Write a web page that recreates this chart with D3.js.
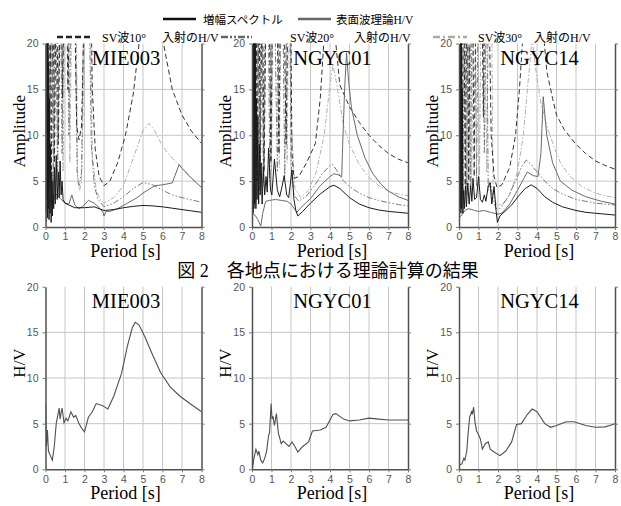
<!DOCTYPE html>
<html>
<head>
<meta charset="utf-8">
<script src="https://cdn.jsdelivr.net/npm/d3@7"></script>
<style>
body { margin: 0; background: #fff; }
</style>
</head>
<body>
<div id="fig"></div>
<script>
// ---- data: [period (s), amplitude] ----
var stations = ["MIE003", "NGYC01", "NGYC14"];
var periodTicks = [0, 1, 2, 3, 4, 5, 6, 7, 8];
var ampTicks = [0, 5, 10, 15, 20];

// MIE003 (top)
var mieAmp = [[0.02,1.5],[0.04,20],[0.06,3],[0.08,25],[0.1,1],[0.12,22],[0.14,2],[0.16,18],[0.18,0.8],[0.2,14],[0.23,1.5],[0.26,9],[0.29,0.5],[0.32,6],[0.35,1.2],[0.38,5],[0.42,2],[0.46,6.5],[0.5,2.5],[0.55,7.8],[0.6,3],[0.66,6],[0.7,3.2],[0.75,7.2],[0.8,3.5],[0.85,5],[0.9,3],[1.0,2.6],[1.2,2.4],[1.5,2.1],[2.0,2.1],[2.5,2.2],[3.0,1.8],[3.5,1.9],[4.0,2.1],[4.5,2.25],[5.0,2.35],[5.5,2.3],[6.0,2.2],[6.5,2.05],[7.0,1.9],[7.5,1.75],[8.0,1.6]];
var mieSurf = [[0.05,0.5],[0.1,2],[0.2,3.2],[0.35,2.4],[0.5,3.6],[0.6,3.5],[0.8,3.0],[1.0,2.6],[1.2,2.5],[1.35,3.5],[1.5,2.4],[1.7,2.0],[1.9,2.2],[2.2,2.9],[2.5,2.6],[2.8,2.0],[2.95,1.6],[3.0,1.2],[3.1,1.7],[3.3,1.7],[3.7,2.0],[4.2,2.6],[4.7,3.2],[5.0,3.7],[5.3,4.1],[5.6,4.5],[6.0,4.6],[6.5,4.8],[6.85,6.8],[7.0,6.4],[7.3,5.7],[7.7,4.9],[8.0,4.3]];
var mieSv10 = [[0.05,3],[0.1,30],[0.15,5],[0.22,30],[0.3,6],[0.38,30],[0.46,7],[0.56,30],[0.66,9],[0.78,30],[0.88,14],[0.97,30],[1.05,30],[1.15,15],[1.3,30],[1.45,30],[1.6,11],[1.72,9.5],[1.85,11],[2.05,30],[2.3,30],[2.4,15],[2.55,8.5],[2.75,5.5],[3.0,4.5],[3.3,5],[3.7,7],[4.1,10],[4.5,14.5],[4.8,20],[5.1,28],[5.5,40],[5.85,28],[6.05,20],[6.5,15],[7.0,12.2],[7.5,10.4],[8.0,9.1]];
var mieSv20 = [[0.05,2],[0.12,30],[0.2,4],[0.3,30],[0.4,5],[0.5,30],[0.62,6],[0.75,30],[0.85,8],[0.95,30],[1.1,30],[1.2,10],[1.35,30],[1.5,30],[1.62,6],[1.72,4.5],[1.85,6],[2.0,30],[2.2,30],[2.35,9],[2.5,4.5],[2.7,3],[3.0,2.2],[3.5,2.6],[4.0,3.3],[4.5,4.2],[5.0,4.85],[5.5,4.6],[6.0,4.0],[6.5,3.5],[7.0,3.2],[7.5,2.95],[8.0,2.7]];
var mieSv30 = [[0.05,3],[0.15,30],[0.22,4],[0.34,30],[0.42,5],[0.52,30],[0.62,5],[0.72,30],[0.8,30],[0.9,6],[1.02,30],[1.15,30],[1.25,7],[1.38,30],[1.55,30],[1.65,5],[1.75,4],[1.85,5],[2.1,30],[2.25,30],[2.4,8],[2.6,4],[2.8,3],[3.0,2.6],[3.5,3.2],[4.0,4.5],[4.5,7.5],[5.0,10.5],[5.3,11.3],[5.6,10.5],[6.0,8.8],[6.5,7.5],[7.0,6.5],[7.5,5.3],[8.0,4.3]];

// NGYC01 (top)
var n01Amp = [[0.02,2],[0.04,9],[0.06,1.5],[0.08,20],[0.1,2],[0.12,25],[0.14,2.5],[0.17,20],[0.2,2],[0.23,14],[0.26,3],[0.3,12],[0.34,2.5],[0.38,9],[0.42,3.5],[0.47,7],[0.52,2.5],[0.58,6.5],[0.65,3.5],[0.72,5.5],[0.78,3.8],[0.85,8.6],[0.95,4],[1.02,3.5],[1.15,7.4],[1.3,4],[1.42,3.3],[1.55,4.5],[1.65,5.6],[1.78,3.5],[1.88,3.2],[2.05,6.2],[2.15,3],[2.25,1.8],[2.35,1.2],[2.6,1.7],[3.0,2.6],[3.5,3.6],[4.0,4.4],[4.2,4.55],[4.5,4.2],[5.0,3.2],[5.5,2.5],[6.0,2.1],[6.5,1.85],[7.0,1.7],[7.5,1.6],[8.0,1.5]];
var n01Surf = [[0.0,1.5],[0.15,1.3],[0.3,0.8],[0.45,0.1],[0.55,1.5],[0.7,2.8],[0.9,2.9],[1.2,3.0],[1.5,2.9],[1.8,2.8],[2.0,2.5],[2.2,1.9],[2.3,1.6],[2.5,2.1],[2.8,2.7],[3.0,3.1],[3.5,4.5],[4.0,5.5],[4.2,5.8],[4.4,5.7],[4.6,5.5],[4.65,9],[4.75,15],[4.85,19],[4.95,16],[5.1,13],[5.4,10],[5.8,7.5],[6.2,5.8],[6.6,4.7],[7.0,3.9],[7.5,3.3],[8.0,2.9]];
var n01Sv10 = [[0.03,3],[0.08,30],[0.13,4],[0.2,30],[0.27,5],[0.35,30],[0.43,5.5],[0.52,30],[0.62,6],[0.75,30],[0.85,30],[0.97,7],[1.08,30],[1.25,30],[1.38,8],[1.48,30],[1.6,30],[1.75,9],[1.88,30],[1.96,30],[2.05,8],[2.15,5.3],[2.4,5.5],[2.8,7],[3.25,9.1],[3.5,14],[3.68,20],[3.85,30],[4.0,40],[4.15,30],[4.3,20],[4.5,15.5],[5.0,13.1],[5.5,11.4],[6.0,10],[6.5,8.9],[7.0,8.0],[7.5,7.4],[8.0,7.0]];
var n01Sv20 = [[0.05,2],[0.12,30],[0.2,3],[0.3,30],[0.38,4],[0.48,30],[0.58,4.5],[0.7,30],[0.8,30],[0.92,5],[1.0,30],[1.12,30],[1.3,6],[1.42,30],[1.55,30],[1.68,5.5],[1.82,30],[1.92,30],[2.0,7],[2.15,3.5],[2.4,2.8],[2.8,3.4],[3.2,4.5],[3.6,5.8],[4.0,6.7],[4.15,6.8],[4.4,6.0],[4.7,5.0],[5.0,4.4],[5.5,3.7],[6.0,3.2],[6.5,2.9],[7.0,2.65],[7.5,2.45],[8.0,2.3]];
var n01Sv30 = [[0.05,3],[0.15,30],[0.22,4],[0.32,30],[0.4,5],[0.5,30],[0.6,5.5],[0.72,30],[0.9,30],[1.0,6],[1.1,30],[1.3,30],[1.4,6.5],[1.52,30],[1.7,30],[1.8,7],[1.9,30],[2.0,12],[2.2,4.2],[2.5,3.2],[2.9,4],[3.3,6],[3.7,10],[4.0,15.5],[4.15,17.7],[4.35,15.5],[4.7,11],[5.0,9],[5.5,6.8],[6.0,5.4],[6.5,4.5],[7.0,3.9],[7.5,3.6],[8.0,3.4]];

// NGYC14 (top)
var n14Amp = [[0.02,1],[0.04,12.5],[0.06,2],[0.08,20],[0.1,1.5],[0.12,25],[0.14,2],[0.17,15],[0.2,1.5],[0.24,4],[0.28,2],[0.33,4.5],[0.38,2.2],[0.45,4.8],[0.52,2.5],[0.6,4.5],[0.66,2.8],[0.72,5.3],[0.8,3],[0.9,3.2],[1.0,5.5],[1.1,3],[1.2,2.7],[1.3,3.5],[1.38,2.8],[1.5,4.5],[1.6,4.8],[1.68,2.5],[1.8,4.4],[1.9,1.8],[1.97,0.5],[2.1,1.2],[2.3,1.6],[2.7,2.4],[3.1,3.5],[3.4,4.2],[3.7,4.6],[4.0,4.2],[4.4,3.3],[4.8,2.7],[5.3,2.2],[6.0,1.8],[6.5,1.6],[7.0,1.5],[7.5,1.4],[8.0,1.3]];
var n14Surf = [[0.0,1.0],[0.1,1.2],[0.3,1.8],[0.5,2.0],[0.8,1.8],[1.0,1.7],[1.3,1.8],[1.6,1.6],[1.8,1.5],[2.0,1.4],[2.2,1.5],[2.6,2.5],[3.0,4.0],[3.3,5.2],[3.5,6.0],[3.8,5.6],[4.05,5.5],[4.2,8],[4.32,14.2],[4.5,10],[4.8,7],[5.2,5],[5.8,4],[6.5,3.3],[7.3,2.8],[8.0,2.5]];
var n14Sv10 = [[0.03,3],[0.1,30],[0.16,4],[0.24,30],[0.32,4.5],[0.42,30],[0.5,5],[0.6,30],[0.68,30],[0.78,5.5],[0.88,30],[1.15,30],[1.25,12],[1.35,30],[1.5,30],[1.65,10],[1.8,5.5],[1.95,4.3],[2.2,4.6],[2.6,6.5],[2.9,10],[3.1,15],[3.25,20],[3.5,35],[3.8,40],[4.1,30],[4.3,22],[4.5,17],[4.8,14],[5.0,12.2],[5.4,10.6],[6.0,9],[6.5,8],[7.0,7.2],[7.5,6.7],[8.0,6.3]];
var n14Sv20 = [[0.05,2],[0.13,30],[0.2,3],[0.3,30],[0.38,3.5],[0.5,30],[0.58,4],[0.7,30],[0.82,30],[0.9,4.5],[1.0,30],[1.2,30],[1.3,8],[1.4,30],[1.5,4],[1.6,5],[1.75,3],[1.9,2],[2.1,2.0],[2.5,3.2],[2.9,5],[3.2,6.5],[3.45,7.3],[3.7,6.8],[4.0,6.0],[4.4,5.0],[4.8,4.2],[5.3,3.6],[6.0,3.0],[6.5,2.8],[7.0,2.6],[7.5,2.5],[8.0,2.4]];
var n14Sv30 = [[0.05,3],[0.15,30],[0.22,3.5],[0.35,30],[0.45,4],[0.55,30],[0.65,4.5],[0.78,30],[0.95,30],[1.05,5],[1.15,30],[1.3,30],[1.42,6],[1.55,30],[1.65,30],[1.75,4],[1.9,2.5],[2.2,2.4],[2.6,3.5],[3.0,6],[3.3,10],[3.55,16],[3.75,20.5],[3.95,17],[4.2,13.5],[4.5,11],[4.8,9.2],[5.2,7],[5.7,5.5],[6.3,4.4],[7.0,3.7],[7.5,3.4],[8.0,3.2]];

// observed H/V (bottom)
var hvMie = [[0.0,7.2],[0.05,2.5],[0.1,4.3],[0.15,2],[0.25,1.5],[0.35,1.0],[0.45,2.5],[0.55,5],[0.62,5.8],[0.7,6.7],[0.75,5.5],[0.8,6.2],[0.85,6.7],[0.95,5.1],[1.05,5.6],[1.15,5.3],[1.3,6.3],[1.45,5.7],[1.55,5.9],[1.7,5.1],[1.85,4.5],[2.0,4.1],[2.2,5.7],[2.4,6.3],[2.6,7.2],[2.9,7.0],[3.2,6.6],[3.5,8.0],[3.9,10.5],[4.2,13.5],[4.45,15.5],[4.6,16.1],[4.8,15.8],[5.1,14.5],[5.5,12.5],[5.9,10.6],[6.4,9.0],[6.9,8.0],[7.4,7.2],[8.0,6.3]];
var hvN01 = [[0.02,0.1],[0.1,1.2],[0.2,2.2],[0.3,1.6],[0.35,2.0],[0.45,1.0],[0.55,0.7],[0.65,1.2],[0.75,2.0],[0.85,3.7],[0.9,4.0],[0.98,7.2],[1.03,5.5],[1.08,5.8],[1.15,4.8],[1.25,6.1],[1.35,4.0],[1.5,2.8],[1.6,3.1],[1.8,2.7],[1.9,2.5],[2.05,3.0],[2.2,2.5],[2.35,1.9],[2.6,2.5],[2.9,3.0],[3.1,4.2],[3.5,4.3],[3.8,4.6],[4.15,6.0],[4.3,6.1],[4.7,5.5],[5.0,5.3],[5.5,5.4],[6.0,5.6],[6.5,5.5],[7.0,5.4],[8.0,5.4]];
var hvN14 = [[0.05,0.5],[0.15,0.6],[0.25,1.2],[0.3,1.0],[0.4,2],[0.45,3.5],[0.55,5.8],[0.6,6.0],[0.65,6.4],[0.68,6.0],[0.75,6.8],[0.82,5.2],[0.9,4.2],[1.0,3.8],[1.1,3.3],[1.2,2.2],[1.35,2.8],[1.5,3.0],[1.6,2.2],[1.8,1.9],[2.1,1.5],[2.4,2.0],[2.7,3.0],[2.95,4.9],[3.2,5.0],[3.5,6.0],[3.75,6.6],[4.0,6.3],[4.4,5.0],[4.7,4.6],[5.0,4.8],[5.5,5.2],[5.9,5.2],[6.5,4.8],[7.0,4.6],[7.5,4.65],[8.0,5.0]];

var topSeries = [
  [mieSv30, mieSv20, mieSv10, mieSurf, mieAmp],
  [n01Sv30, n01Sv20, n01Sv10, n01Surf, n01Amp],
  [n14Sv30, n14Sv20, n14Sv10, n14Surf, n14Amp]
];
var bottomSeries = [hvMie, hvN01, hvN14];

// line styles, same order as topSeries rows
var styles = [
  {color: "#b0b0b0", dash: "5,2,1.5,2"},
  {color: "#7a7a7a", dash: "6,2,1.5,2,1.5,2"},
  {color: "#333", dash: "5,3"},
  {color: "#6a6a6a", dash: null},
  {color: "#1a1a1a", dash: null}
];

var width = 621, height = 506;
var lefts = [45.5, 252, 459];
var pw = 156;
var topY = 43.5, topH = 183.5;
var botY = 286.7, botH = 182.6;

var serif = "'Liberation Serif', 'Times New Roman', 'Noto Sans CJK JP', serif";
var sans = "'Liberation Sans', Arial, sans-serif";

var svg = d3.select("#fig")
  .append("svg")
    .attr("width", width)
    .attr("height", height)
    .style("background", "#fff");

function drawPanel(i, y0, h, lines, ylab, idx) {
  var left = lefts[i];
  var x = d3.scaleLinear().domain([0, 8]).range([left, left + pw]);
  var y = d3.scaleLinear().domain([0, 20]).range([y0 + h, y0]);
  var g = svg.append("g");

  // grid
  g.selectAll(".vg").data(periodTicks.slice(1, -1)).enter().append("line")
    .attr("x1", d => x(d)).attr("x2", d => x(d))
    .attr("y1", y(0)).attr("y2", y(20))
    .attr("stroke", "#c6c6c6").attr("stroke-width", 1);
  g.selectAll(".hg").data([5, 10, 15]).enter().append("line")
    .attr("x1", x(0)).attr("x2", x(8))
    .attr("y1", d => y(d)).attr("y2", d => y(d))
    .attr("stroke", "#c6c6c6").attr("stroke-width", 1);

  // curves
  var clipId = "clip" + idx;
  g.append("clipPath").attr("id", clipId)
    .append("rect").attr("x", x(0)).attr("y", y(20))
    .attr("width", pw).attr("height", h);
  var line = d3.line().x(d => x(d[0])).y(d => y(d[1]));
  lines.forEach(function(l) {
    g.append("path")
      .datum(l.data)
      .attr("clip-path", "url(#" + clipId + ")")
      .attr("fill", "none")
      .attr("stroke", l.color)
      .attr("stroke-width", l.w || 1)
      .attr("stroke-dasharray", l.dash)
      .attr("d", line);
  });

  // axes
  var ax = [
    g.append("g").attr("transform", "translate(0," + y(0) + ")")
      .call(d3.axisBottom(x).tickValues(periodTicks).tickSize(3).tickSizeOuter(0).tickPadding(3)),
    g.append("g").attr("transform", "translate(" + x(0) + ",0)")
      .call(d3.axisLeft(y).tickValues(ampTicks).tickSize(3).tickSizeOuter(0).tickPadding(4)),
    g.append("g").attr("transform", "translate(" + x(8) + ",0)")
      .call(d3.axisRight(y).tickValues(ampTicks).tickSize(3).tickSizeOuter(0).tickFormat(""))
  ];
  ax.forEach(function(a) {
    a.select(".domain").attr("stroke", "#505050").attr("stroke-width", 1.5);
    a.selectAll(".tick line").attr("stroke", "#777");
    a.selectAll("text").attr("fill", "#555").style("font-family", sans).style("font-size", "10.5px");
  });

  // titles
  g.append("text")
    .attr("transform", "translate(" + (left - 21) + "," + (y0 + h / 2 - (ylab == "H/V" ? 15 : 4)) + ") rotate(-90)")
    .attr("text-anchor", "middle")
    .style("font-family", serif).style("font-size", "17px")
    .text(ylab);
  g.append("text")
    .attr("x", left + pw / 2 + 2).attr("y", y0 + h + 30)
    .attr("text-anchor", "middle")
    .style("font-family", serif).style("font-size", "18px")
    .text("Period [s]");
  g.append("text")
    .attr("x", left + pw / 2 + 2.5).attr("y", y0 + 21.5)
    .attr("text-anchor", "middle")
    .style("font-family", serif).style("font-size", "20.5px")
    .text(stations[i]);
}

stations.forEach(function(s, i) {
  var ls = topSeries[i].map(function(d, k) {
    return {data: d, color: styles[k].color, dash: styles[k].dash};
  });
  drawPanel(i, topY, topH, ls, "Amplitude", "t" + i);
  drawPanel(i, botY, botH, [{data: bottomSeries[i], color: "#505050", dash: null, w: 1.1}], "H/V", "b" + i);
});

// caption
svg.append("text")
  .attr("x", 328).attr("y", 276.5)
  .attr("text-anchor", "middle")
  .style("font-family", serif).style("font-size", "18px")
  .text("図 2　各地点における理論計算の結果");

// legend
var leg = svg.append("g").style("font-family", serif);
var legItems = [
  {x1: 163, x2: 196, y: 19, tx: 203, ty: 24, size: 11.5, color: "#111", dash: null, label: "増幅スペクトル"},
  {x1: 298, x2: 331, y: 19, tx: 336, ty: 24, size: 11.5, color: "#666", dash: null, label: "表面波理論H/V"},
  {x1: 57, x2: 92, y: 37, tx: 102, tx2: 162, ty: 42, size: 12, color: "#222", dash: "6,3", label: "SV波10°", label2: "入射のH/V"},
  {x1: 221, x2: 252, y: 37, tx: 290, tx2: 354, ty: 42, size: 12, color: "#666", dash: "7,2,2,2,2,2", label: "SV波20°", label2: "入射のH/V"},
  {x1: 433, x2: 467, y: 37, tx: 478, tx2: 534, ty: 42, size: 12, color: "#aaa", dash: "7,3,2,3", label: "SV波30°", label2: "入射のH/V"}
];
legItems.forEach(function(d) {
  leg.append("line")
    .attr("x1", d.x1).attr("x2", d.x2).attr("y1", d.y).attr("y2", d.y)
    .attr("stroke", d.color).attr("stroke-width", 2.5)
    .attr("stroke-dasharray", d.dash);
  leg.append("text").attr("x", d.tx).attr("y", d.ty)
    .style("font-size", d.size + "px").text(d.label);
  if (d.label2) {
    leg.append("text").attr("x", d.tx2).attr("y", d.ty)
      .style("font-size", d.size + "px").text(d.label2);
  }
});
</script>
</body>
</html>
